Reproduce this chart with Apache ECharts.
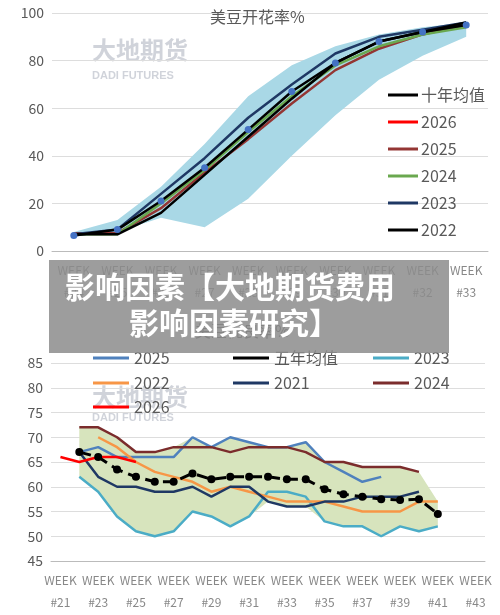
<!DOCTYPE html>
<html><head><meta charset="utf-8">
<script src="https://cdn.jsdelivr.net/npm/echarts@6/dist/echarts.min.js"></script>
<style>body{margin:0;background:#fff}#c{width:500px;height:615px}
#ov{position:absolute;left:49px;top:260px;width:400px;height:93px;background:rgba(140,140,140,0.85);color:#fff;font-family:"Noto Sans CJK SC";font-weight:bold;font-size:30px;line-height:34px;z-index:5}
#ov div{position:absolute;white-space:nowrap}</style></head><body>
<div id="c"></div>
<div id="ov"><div style="left:16px;top:8px">影响因素【大地期货费用</div><div style="left:80px;top:44px">影响因素研究】</div></div>
<script>
const topWeeks=['#24','#25','#26','#27','#28','#29','#30','#31','#32','#33'];
const topAvg=[6.5,9,21,35,51,67,79,88,92,95];
const topLow=[6,8,14,10,22,40,57,72,82,90];
const topHigh=[8,13,27,45,65,78,86,91,94,96];
const t2025=[7.5,7.5,18,33,47,62,76,85,91,95];
const t2024=[7,7,20,34,50,65,78,86,91,94];
const t2023=[7,9,24,39,56,70,83,90,93,96];
const t2022=[7,7,16,32,48,64,79,88,92,96];
const t2026=[];
const botWeeks=['#21','#22','#23','#24','#25','#26','#27','#28','#29','#30','#31','#32','#33','#34','#35','#36','#37','#38','#39','#40','#41','#42','#43'];
const b2026=[66,65,66,66,65];
const bAvg=[null,67,66,63.5,62,61,61,62.7,61.5,62,62,62,61.5,61.5,59.5,58.5,58,57.5,57.3,57.5,54.5];
const b2025=[null,67,68,66,66,66,66,70,68,70,69,68,68,69,65,63,61,62];
const b2023=[null,62,59,54,51,50,51,55,54,52,54,59,59,58,53,52,52,50,52,51,52];
const b2022=[null,null,70,68,65,63,62,61,59,60,59,58,57,57,57,56,55,55,55,57,57];
const b2021=[null,67,62,60,60,59,59,60,58,60,60,57,56,56,57,57,58,58,58,59];
const b2024=[null,72,72,70,67,67,68,68,68,67,68,68,68,67,65,65,64,64,64,63];
const bHigh=[null,72,72,70,67,67,68,70,68,70,69,68,68,69,65,65,64,64,64,63,57];
const bLow=[null,62,59,54,51,50,51,55,54,52,54,57,56,56,53,52,52,50,52,51,52];
const G='#595959',F='Noto Sans CJK SC';
const diff=(h,l)=>h.map((v,i)=>v==null?null:v-l[i]);
function line(name,data,color,xi,extra){return Object.assign({name,type:'line',data,xAxisIndex:xi,yAxisIndex:xi,symbol:'none',lineStyle:{color,width:2.5},itemStyle:{color},z:3},extra||{});}
const xlab={color:'#888',fontSize:12,fontFamily:F,lineHeight:22,formatter:v=>'WEEK\n'+v};
function bl(name,left,top){return {left,top,itemWidth:36,itemHeight:3,icon:'rect',textStyle:{color:G,fontSize:16,fontFamily:F},data:[name],formatter:n=>n.replace('b','')};}
const c=echarts.init(document.getElementById('c'));
c.setOption({animation:false,
title:[{text:'美豆开花率%',left:205,top:4,textStyle:{color:G,fontSize:16,fontWeight:'normal',fontFamily:F}},
{text:'美豆优良率%',left:190,top:318,textStyle:{color:G,fontSize:16,fontWeight:'normal',fontFamily:F}}],
graphic:[{type:'text',left:92,top:38,style:{text:'大地期货',fontSize:24,fontWeight:'bold',fill:'rgba(120,130,150,0.35)',fontFamily:F}},
{type:'text',left:92,top:70,style:{text:'DADI FUTURES',fontSize:11,fontWeight:'bold',fill:'rgba(120,130,150,0.35)'}},
{type:'text',left:92,top:385,style:{text:'大地期货',fontSize:24,fontWeight:'bold',fill:'rgba(120,130,150,0.35)',fontFamily:F}},
{type:'text',left:92,top:412,style:{text:'DADI FUTURES',fontSize:11,fontWeight:'bold',fill:'rgba(120,130,150,0.35)'}}],
legend:[{orient:'vertical',left:383,top:82,itemGap:11,itemWidth:30,itemHeight:3,textStyle:{color:G,fontSize:16,fontFamily:F,padding:[0,0,0,-2]},
data:[{name:'十年均值',icon:'path://M0,0h30v3h-30z',itemStyle:{color:'#000'}},'2026','2025','2024','2023','2022'].map(n=>typeof n==='string'?{name:n,icon:'rect'}:n)},
bl('b2025',88,345),bl('五年均值',228,345),bl('b2023',368,345),
bl('b2022',88,370),bl('b2021',228,370),bl('b2024',368,370),bl('b2026',88,394)],
grid:[{left:52,top:13,width:436,height:238},{left:51,top:363,width:434,height:198}],
xAxis:[{type:'category',gridIndex:0,data:topWeeks,axisLine:{lineStyle:{color:'#bbb'}},axisTick:{lineStyle:{color:'#bbb'}},axisLabel:xlab},
{type:'category',gridIndex:1,data:botWeeks,axisLine:{lineStyle:{color:'#bbb'}},axisTick:{lineStyle:{color:'#bbb'}},axisLabel:Object.assign({},xlab,{interval:1})}],
yAxis:[{type:'value',gridIndex:0,min:0,max:100,interval:20,axisLabel:{color:G,fontSize:14,fontFamily:F},splitLine:{lineStyle:{color:'#ddd'}},axisLine:{show:false}},
{type:'value',gridIndex:1,min:45,max:85,interval:5,axisLabel:{color:G,fontSize:14,fontFamily:F},splitLine:{lineStyle:{color:'#ddd'}},axisLine:{show:false}}],
series:[
{type:'line',data:topLow,stack:'t',symbol:'none',lineStyle:{width:0},xAxisIndex:0,yAxisIndex:0,silent:true},
{type:'line',data:diff(topHigh,topLow),stack:'t',symbol:'none',lineStyle:{width:0},areaStyle:{color:'#a9d8e6',opacity:1},xAxisIndex:0,yAxisIndex:0,silent:true},
line('2026',t2026,'#ff0000',0),
line('2025',t2025,'#943634',0),
line('2024',t2024,'#6aa84f',0),
line('2023',t2023,'#1f3864',0),
line('2022',t2022,'#000000',0),
line('十年均值',topAvg,'#000000',0,{symbol:'circle',symbolSize:7,itemStyle:{color:'#4472c4'},lineStyle:{color:'#000',width:2.5}}),
{type:'line',data:bLow,stack:'b',symbol:'none',lineStyle:{width:0},xAxisIndex:1,yAxisIndex:1,silent:true},
{type:'line',data:diff(bHigh,bLow),stack:'b',symbol:'none',lineStyle:{width:0},areaStyle:{color:'#d7e4bd',opacity:1},xAxisIndex:1,yAxisIndex:1,silent:true},
line('b2025',b2025,'#4f81bd',1),
line('b2023',b2023,'#4bacc6',1),
line('b2022',b2022,'#f79646',1),
line('b2021',b2021,'#1f3864',1),
line('b2024',b2024,'#7b2c2c',1),
line('b2026',b2026,'#ff0000',1),
line('五年均值',bAvg,'#000',1,{symbol:'circle',symbolSize:8,lineStyle:{color:'#000',width:3,type:'dashed'},itemStyle:{color:'#000'},z:4})
]});
</script></body></html>
